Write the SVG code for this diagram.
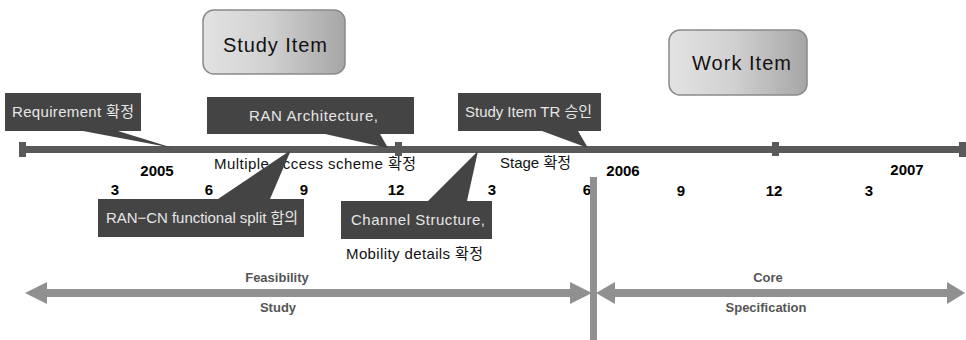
<svg xmlns="http://www.w3.org/2000/svg" width="966" height="340" viewBox="0 0 966 340">
<defs>
<linearGradient id="boxg" x1="0" y1="0" x2="1" y2="0">
<stop offset="0" stop-color="#e2e2e2"/>
<stop offset="0.45" stop-color="#d2d2d2"/>
<stop offset="1" stop-color="#a6a6a6"/>
</linearGradient>
<style>
.ph{fill:url(#boxg);stroke:#8a8a8a;stroke-width:1.5}
.pht{font-family:"Liberation Sans","Noto Sans CJK KR",sans-serif;font-size:20px;fill:#111}
.co{fill:#444444}
.cot{font-family:"Liberation Sans","Noto Sans CJK KR",sans-serif;font-size:15px;fill:#e6e6e6}
.bt{font-family:"Liberation Sans","Noto Sans CJK KR",sans-serif;font-size:15px;fill:#111}
.yr{font-family:"Liberation Sans",Arial,sans-serif;font-size:15px;font-weight:bold;fill:#000;text-anchor:middle}
.ph2{font-family:"Liberation Sans",Arial,sans-serif;font-size:13px;font-weight:bold;fill:#555;text-anchor:middle}
.bar{fill:#595959}
.ar{fill:#909090}
</style>
</defs>
<rect width="966" height="340" fill="#ffffff"/>

<g id="study-item">
<rect class="ph" x="203" y="10" width="142" height="64" rx="11"/>
<text class="pht" x="223" y="52" textLength="104" lengthAdjust="spacing">Study Item</text>
</g>
<g id="work-item">
<rect class="ph" x="669" y="30" width="138" height="65" rx="11"/>
<text class="pht" x="692" y="70" textLength="99" lengthAdjust="spacing">Work Item</text>
</g>

<g id="phase-arrows">
<rect class="ar" x="45" y="289" width="527" height="8"/>
<polygon class="ar" points="25,293 47,282 47,304"/>
<polygon class="ar" points="592,293 570,282 570,304"/>
<rect class="ar" x="613" y="289" width="336" height="8"/>
<polygon class="ar" points="596,293 615,282 615,304"/>
<polygon class="ar" points="965,293 947,282 947,304"/>
<text class="ph2" x="277" y="282">Feasibility</text>
<text class="ph2" x="278" y="312">Study</text>
<text class="ph2" x="768" y="282">Core</text>
<text class="ph2" x="766" y="312">Specification</text>
</g>

<g id="timeline">
<rect class="bar" x="19" y="146" width="946" height="7"/>
<rect class="bar" x="19" y="142" width="7" height="15"/>
<rect class="bar" x="959" y="142" width="7" height="15"/>
<rect class="bar" x="395" y="142" width="7" height="14"/>
<rect class="bar" x="772" y="142" width="7" height="14"/>
<text class="yr" x="157" y="176">2005</text>
<text class="yr" x="623" y="176">2006</text>
<text class="yr" x="907" y="175">2007</text>
<text class="yr" x="115" y="195">3</text>
<text class="yr" x="209" y="195">6</text>
<text class="yr" x="304" y="195">9</text>
<text class="yr" x="396" y="195">12</text>
<text class="yr" x="492" y="195">3</text>
<text class="yr" x="587" y="195">6</text>
<text class="yr" x="681" y="196">9</text>
<text class="yr" x="774" y="196">12</text>
<text class="yr" x="869" y="196">3</text>
</g>
<g id="divider">
<rect class="ar" x="590" y="177" width="7" height="163"/>
</g>

<g id="requirement">
<polygon class="co" points="5,93 141,93 141,131 118,131 173,148 83,131 5,131"/>
<text class="cot" x="12" y="117" textLength="122" lengthAdjust="spacing">Requirement 확정</text>
</g>

<g id="ran-architecture">
<polygon class="co" points="207,97 414,97 414,134 380,134 388,148 325,134 207,134"/>
<text class="cot" x="249" y="121" textLength="129" lengthAdjust="spacing">RAN Architecture,</text>
<text class="bt" x="214" y="169" textLength="202" lengthAdjust="spacing">Multiple access scheme 확정</text>
</g>

<g id="ran-cn">
<polygon class="co" points="98,199 218,199 291,150 270,199 304,199 304,237 98,237"/>
<text class="cot" x="106" y="223" textLength="192" lengthAdjust="spacing">RAN−CN functional split 합의</text>
</g>

<g id="channel-structure">
<polygon class="co" points="341,201 428,201 478,151 467,201 492,201 492,239 341,239"/>
<text class="cot" x="351" y="225" textLength="134" lengthAdjust="spacing">Channel Structure,</text>
<text class="bt" x="346" y="259" textLength="137" lengthAdjust="spacing">Mobility details 확정</text>
</g>

<g id="study-item-tr">
<polygon class="co" points="458,93 601,93 601,131 578,131 588,148 542,131 458,131"/>
<text class="cot" x="465" y="117" textLength="127" lengthAdjust="spacing">Study Item TR 승인</text>
<text class="bt" x="500" y="168" textLength="71" lengthAdjust="spacing">Stage 확정</text>
</g>
</svg>
